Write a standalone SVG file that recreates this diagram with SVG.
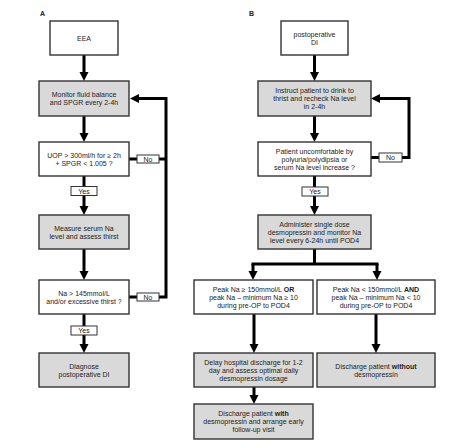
<svg xmlns="http://www.w3.org/2000/svg" width="474" height="447" viewBox="0 0 474 447">
<style>
.box{stroke:#333;stroke-width:1.4;fill:#fff}
.g{fill:#d9d9d9}
.lbl{fill:#fff;stroke:#333;stroke-width:1}
text{font-family:"Liberation Sans",Arial,sans-serif;font-size:7px;fill:#222;text-anchor:middle}
.hd{font-weight:bold;text-anchor:start}
.c{stroke:#000;stroke-width:3;fill:none}
.a{marker-end:url(#ah)}
b,.b{font-weight:bold}
</style>
<defs>
<marker id="ah" markerUnits="userSpaceOnUse" markerWidth="10" markerHeight="10" refX="3" refY="4.5" orient="auto">
<path d="M0,0 L9,4.5 L0,9 z" fill="#000"/>
</marker>
</defs>
<rect width="474" height="447" fill="#fff"/>
<text class="hd" x="40" y="16">A</text>
<text class="hd" x="249" y="16">B</text>

<g id="connectors">
<!-- Panel A -->
<line class="c a" x1="84" y1="55" x2="84" y2="75"/>
<line class="c a" x1="84" y1="116" x2="84" y2="136"/>
<line class="c a" x1="84" y1="176" x2="84" y2="209"/>
<line class="c a" x1="84" y1="249" x2="84" y2="274"/>
<line class="c a" x1="84" y1="314" x2="84" y2="347"/>
<line class="c" x1="129" y1="159" x2="166" y2="159"/>
<polyline class="c a" points="129,297 166,297 166,98.5 136,98.5"/>
<!-- Panel B -->
<line class="c a" x1="314.5" y1="55" x2="314.5" y2="75"/>
<line class="c a" x1="314.5" y1="116" x2="314.5" y2="136"/>
<line class="c a" x1="314.5" y1="176" x2="314.5" y2="209"/>
<line class="c" x1="314.5" y1="249" x2="314.5" y2="264"/>
<line class="c" x1="251.5" y1="264" x2="378.5" y2="264"/>
<line class="c a" x1="253" y1="264" x2="253" y2="274"/>
<line class="c a" x1="377" y1="264" x2="377" y2="274"/>
<polyline class="c a" points="371,157.5 409,157.5 409,98.5 377,98.5"/>
<line class="c a" x1="254" y1="314" x2="254" y2="347"/>
<line class="c a" x1="376" y1="314" x2="376" y2="347"/>
<line class="c a" x1="254" y1="387" x2="254" y2="398"/>
</g>

<g id="labels">
<rect class="lbl" x="137" y="155" width="22" height="8"/><text x="148" y="161.5">No</text>
<rect class="lbl" x="71" y="186.5" width="26" height="9"/><text x="84" y="193.5">Yes</text>
<rect class="lbl" x="137" y="293" width="22" height="8"/><text x="148" y="299.5">No</text>
<rect class="lbl" x="71" y="326" width="26" height="9"/><text x="84" y="333">Yes</text>
<rect class="lbl" x="379" y="153" width="23" height="9"/><text x="390.5" y="160">No</text>
<rect class="lbl" x="302" y="187" width="26" height="9"/><text x="315" y="194">Yes</text>
</g>

<g id="eea"><rect class="box" x="50" y="21" width="68" height="34"/><text x="84" y="40.5">EEA</text></g>
<g id="monitor"><rect class="box g" x="39" y="81" width="90" height="35"/><text x="84" y="97">Monitor fluid balance</text><text x="84" y="105">and SPGR every 2-4h</text></g>
<g id="uop"><rect class="box" x="39" y="142" width="90" height="34"/><text x="84" y="157.5">UOP &gt; 300ml/h for ≥ 2h</text><text x="84" y="165.5">+ SPGR &lt; 1.005 ?</text></g>
<g id="measure"><rect class="box g" x="39" y="215" width="90" height="34"/><text x="84" y="230.5">Measure serum Na</text><text x="84" y="238.5">level and assess thirst</text></g>
<g id="na"><rect class="box" x="39" y="280" width="90" height="34"/><text x="84" y="295.5">Na &gt; 145mmol/L</text><text x="84" y="303.5">and/or excessive thirst ?</text></g>
<g id="diagnose"><rect class="box g" x="39" y="353" width="90" height="34"/><text x="84" y="368.5">Diagnose</text><text x="84" y="376.5">postoperative DI</text></g>

<g id="postdi"><rect class="box" x="281" y="21" width="67" height="34"/><text x="314.5" y="36.5">postoperative</text><text x="314.5" y="44.5">DI</text></g>
<g id="instruct"><rect class="box g" x="258" y="81" width="113" height="35"/><text x="314.5" y="93">Instruct patient to drink to</text><text x="314.5" y="101">thrist and recheck Na level</text><text x="314.5" y="109">in 2-4h</text></g>
<g id="patient"><rect class="box" x="258" y="142" width="113" height="34"/><text x="314.5" y="153.5">Patient uncomfortable by</text><text x="314.5" y="161.5">polyuria/polydipsia or</text><text x="314.5" y="169.5">serum Na level increase ?</text></g>
<g id="administer"><rect class="box g" x="258" y="215" width="113" height="34"/><text x="314.5" y="226.5">Administer single dose</text><text x="314.5" y="234.5">desmopressin and monitor Na</text><text x="314.5" y="242.5">level every 6-24h until POD4</text></g>
<g id="peakhigh"><rect class="box" x="194" y="280" width="119" height="34"/><text x="253.5" y="291.5">Peak Na ≥ 150mmol/L <tspan class="b">OR</tspan></text><text x="253.5" y="299.5">peak Na – minimum Na ≥ 10</text><text x="253.5" y="307.5">during pre-OP to POD4</text></g>
<g id="peaklow"><rect class="box" x="317" y="280" width="118" height="34"/><text x="376" y="291.5">Peak Na &lt; 150mmol/L <tspan class="b">AND</tspan></text><text x="376" y="299.5">peak Na – minimum Na &lt; 10</text><text x="376" y="307.5">during pre-OP to POD4</text></g>
<g id="delay"><rect class="box g" x="194" y="353" width="119" height="34"/><text x="253.5" y="364.5">Delay hospital discharge for 1-2</text><text x="253.5" y="372.5">day and assess optimal daily</text><text x="253.5" y="380.5">desmopressin dosage</text></g>
<g id="without"><rect class="box g" x="317" y="353" width="118" height="34"/><text x="376" y="368.5">Discharge patient <tspan class="b">without</tspan></text><text x="376" y="376.5">desmopressin</text></g>
<g id="with"><rect class="box g" x="194" y="404" width="119" height="35"/><text x="253.5" y="416">Discharge patient <tspan class="b">with</tspan></text><text x="253.5" y="424">desmopressin and arrange early</text><text x="253.5" y="432">follow-up visit</text></g>
</svg>
